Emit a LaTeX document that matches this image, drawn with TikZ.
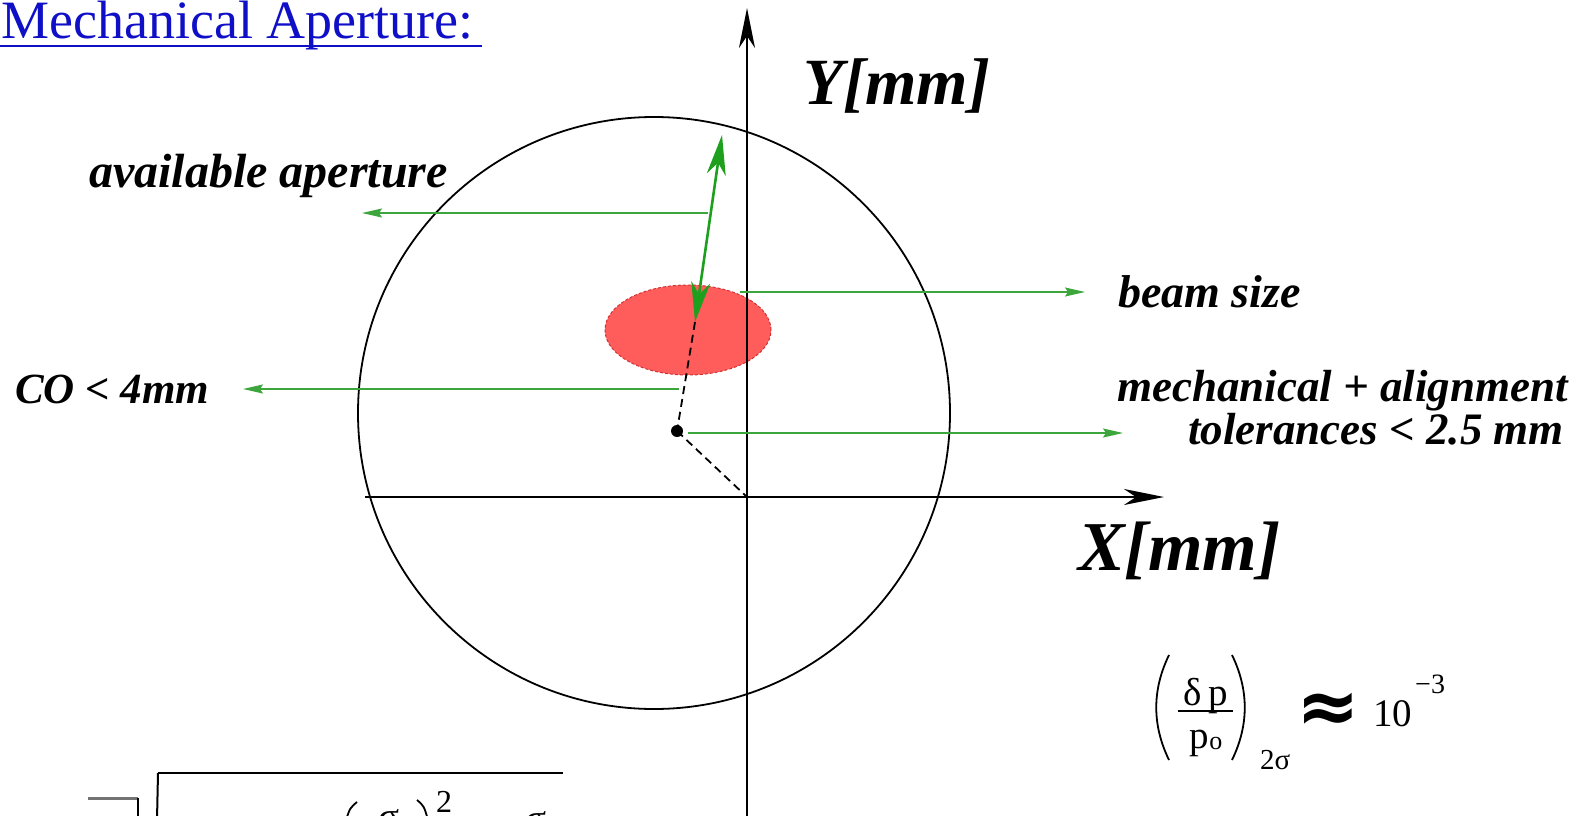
\documentclass[tikz,border=0pt]{standalone}
\usepackage{fontspec}
\setmainfont{Liberation Serif}
\newfontfamily\dejavub{DejaVu Sans}
\usetikzlibrary{arrows.meta,shapes.geometric}
\definecolor{gthick}{RGB}{30,160,30}
\definecolor{gthin}{RGB}{60,165,60}
\definecolor{beamfill}{RGB}{255,92,92}
\definecolor{beamedge}{RGB}{210,50,50}
\definecolor{titleblue}{RGB}{15,15,200}
\tikzset{
  lbl/.style={font=\fontsize{46}{46}\selectfont\bfseries\itshape, inner sep=0pt},
  axlbl/.style={font=\fontsize{66}{66}\selectfont\bfseries\itshape, inner sep=0pt},
  ttl/.style={font=\fontsize{54}{60}\selectfont, text=titleblue, inner sep=0pt},
  frm/.style={font=\fontsize{39}{39}\selectfont, inner sep=0pt},
  frmsub/.style={font=\fontsize{27}{27}\selectfont, inner sep=0pt},
  garrow/.style={draw=gthin, line width=1.6pt, -{Stealth[length=20pt,width=9pt,inset=3pt]}},
  dblarrow/.style={draw=gthick, line width=2.6pt, {Stealth[length=40pt,width=19pt,inset=12pt]}-{Stealth[length=40pt,width=19pt,inset=12pt]}},
  axis/.style={line width=2pt, -{Stealth[length=40pt,width=16pt,inset=12pt]}},
  dsh/.style={line width=1.8pt, dash pattern=on 8pt off 5pt}
}
\begin{document}
\begin{tikzpicture}[x=1pt,y=-1pt]
\useasboundingbox (0,0) rectangle (1580,816);
\fill[white] (0,0) rectangle (1580,816);
\clip (0,0) rectangle (1580,816);

% title
\node[ttl, anchor=base west] (title) at (1,39) {Mechanical Aperture:};
\coordinate (ul1) at (0,46.5);
\coordinate (ul2) at (482,46.5);
\draw[titleblue, line width=2pt] (ul1) -- (ul2);

% aperture circle
\node[draw, circle, minimum size=592pt, inner sep=0pt, line width=1.8pt] (ap) at (654,413) {};

% beam ellipse
\node[ellipse, minimum width=166pt, minimum height=90pt, inner sep=0pt,
      fill=beamfill, draw=beamedge, line width=1pt, dash pattern=on 3pt off 2pt] (beam) at (688,330) {};

% axes
\coordinate (O) at (747,497);
\coordinate (xs) at (365,497);
\coordinate (xe) at (1164,497);
\coordinate (ys) at (747,820);
\coordinate (ye) at (747,8);
\draw[axis] (xs) -- (xe);
\draw[axis] (ys) -- (ye);
\node[axlbl, anchor=base west] (ylab) at (803,104) {Y[mm]};
\node[axlbl, font=\fontsize{70}{70}\selectfont\bfseries\itshape, anchor=base west] (xlab) at (1078,570) {X[mm]};

% closed orbit point and dashed lines
\node[circle, fill=black, inner sep=0pt, minimum size=12pt] (cod) at (677,431) {};
\coordinate (aT) at (722,135);
\coordinate (aB) at (695,322);
\draw[dsh] (aB) -- (cod.center);
\draw[dsh] (cod.center) -- (O);

% available aperture double arrow
\draw[dblarrow] (aB) -- (aT);

% labels
\node[lbl, font=\fontsize{48}{48}\selectfont\bfseries\itshape, anchor=base west] (avail) at (89,187) {available aperture};
\node[lbl, anchor=base west] (bsize) at (1118,307) {beam size};
\node[lbl, font=\fontsize{43}{43}\selectfont\bfseries\itshape, anchor=base west] (co) at (15,403) {CO < 4mm};
\node[lbl, font=\fontsize{45}{45}\selectfont\bfseries\itshape, anchor=base east] (mech) at (1568,401) {mechanical + alignment};
\node[lbl, font=\fontsize{45}{45}\selectfont\bfseries\itshape, anchor=base east] (tol) at (1564,444) {tolerances < 2.5 mm};

% green pointer arrows
\coordinate (p1s) at (708,213);
\coordinate (p1e) at (362,213);
\draw[garrow] (p1s) -- (p1e);
\coordinate (p2s) at (740,292);
\coordinate (p2e) at (1085,292);
\draw[garrow] (p2s) -- (p2e);
\coordinate (p3s) at (679,389);
\coordinate (p3e) at (243,389);
\draw[garrow] (p3s) -- (p3e);
\coordinate (p4s) at (688,433);
\coordinate (p4e) at (1123,433);
\draw[garrow] (p4s) -- (p4e);

% momentum spread formula
\node[frm, anchor=base] (dp) at (1206,705) {δ\,p};
\coordinate (fb1) at (1178,711);
\coordinate (fb2) at (1233,711);
\draw[line width=1.6pt] (fb1) -- (fb2);
\node[frm, anchor=base] (po) at (1206,748) {p\raisebox{-0.05em}{\fontsize{26}{26}\selectfont o}};
\draw[line width=1.8pt] (1169,655) .. controls (1152,690) and (1152,725) .. (1169,760);
\draw[line width=1.8pt] (1232,655) .. controls (1249,690) and (1249,725) .. (1232,760);
\node[frmsub, font=\fontsize{29}{29}\selectfont, anchor=base west] (sig) at (1260,769) {2σ};
\node[font=\dejavub\bfseries\fontsize{76}{76}\selectfont, inner sep=0pt] (apx) at (1328,713) {≈};
\node[frm, anchor=base west] (ten) at (1373,726) {10};
\node[frmsub, font=\fontsize{28}{28}\selectfont, anchor=base west] (exp) at (1415,693) {−3};

% cut-off square-root formula at the bottom
\draw[line width=3pt, black!55] (88,798) -- (138,798);
\draw[line width=2pt] (138,798) -- (138,820);
\draw[line width=2pt] (158,773) -- (157,820);
\draw[line width=2pt] (158,773) -- (563,773);
\draw[line width=1.8pt] (357,802) .. controls (350,808) .. (346,820);
\draw[line width=1.8pt] (417,800) .. controls (424,806) .. (428,820);
\node[frm, anchor=base west] (s1) at (378,829) {σ};
\node[frmsub, font=\fontsize{32}{32}\selectfont, anchor=base west] (sq) at (436,812) {2};
\node[frm, anchor=base west] (s2) at (525,831) {σ};
\end{tikzpicture}
\end{document}
